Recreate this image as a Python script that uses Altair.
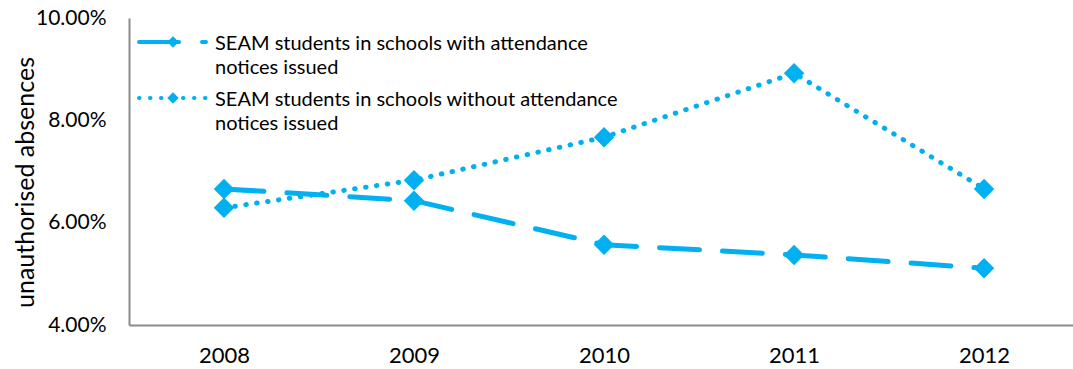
import altair as alt
import pandas as pd

# Unauthorised absence rates (%) for SEAM students, by year
years = [2008, 2009, 2010, 2011, 2012]
with_notices = [6.66, 6.43, 5.57, 5.37, 5.11]
without_notices = [6.29, 6.83, 7.67, 8.92, 6.66]

series_names = [
    "SEAM students in schools with attendance notices issued",
    "SEAM students in schools without attendance notices issued",
]
legend_lines = [
    "SEAM students in schools with attendance\nnotices issued",
    "SEAM students in schools without attendance\nnotices issued",
]
y_ticks = [4, 6, 8, 10]

BLUE = "#00B0F0"
AXIS_GREY = "#8C8C8C"
FONT = "Lato"
DASHES = [[40, 23], [0.5, 10.5]]

rows = []
for name, vals in zip(series_names, [with_notices, without_notices]):
    for yr, v in zip(years, vals):
        rows.append({"year": yr, "series": name, "rate": v})
df = pd.DataFrame(rows)

x_enc = alt.X(
    "year:Q",
    scale=alt.Scale(domain=[2007.5, 2012.468], nice=False, zero=False),
    axis=alt.Axis(
        values=years, format="d", title=None, grid=False, ticks=False, tickSize=0,
        labelPadding=20, labelFontSize=22, labelFont=FONT, labelColor="#000000",
        domainColor=AXIS_GREY, domainWidth=2,
    ),
)
y_enc = alt.Y(
    "rate:Q",
    scale=alt.Scale(domain=[4, 10], nice=False, zero=False),
    axis=alt.Axis(
        values=y_ticks, labelExpr="format(datum.value, '.2f') + '%'",
        title="unauthorised absences", titleFont=FONT, titleFontSize=25,
        titleFontWeight="normal", titleColor="#000000",
        titleX=-96, titleY=164, titleAlign="center", titleBaseline="alphabetic",
        titleAngle=270,
        grid=False, ticks=False, tickSize=0, labelPadding=23,
        labelFontSize=21, labelFont=FONT, labelColor="#000000",
        domainColor=AXIS_GREY, domainWidth=2,
    ),
)

lines = alt.Chart(df).mark_line(color=BLUE, strokeWidth=5, strokeCap="round").encode(
    x=x_enc,
    y=y_enc,
    strokeDash=alt.StrokeDash(
        "series:N", scale=alt.Scale(domain=series_names, range=DASHES), legend=None
    ),
    detail="series:N",
)

points = alt.Chart(df).mark_point(
    shape="diamond", filled=True, size=420, color=BLUE, opacity=1
).encode(x="year:Q", y="rate:Q")

# Hand-drawn legend in the top-left corner of the plot
legend_layers = []
for i, (name, label) in enumerate(zip(series_names, legend_lines)):
    ldf = pd.DataFrame({"series": [name], "label": [label]})
    base = alt.Chart(ldf)
    yline = 24 + 56 * i
    legend_layers.append(
        base.mark_rule(color=BLUE, strokeWidth=4, strokeCap="round", strokeDash=DASHES[i]).encode(
            x=alt.value(10), x2=alt.value(77), y=alt.value(yline)
        )
    )
    legend_layers.append(
        base.mark_point(shape="diamond", filled=True, size=130, color=BLUE, opacity=1).encode(
            x=alt.value(44), y=alt.value(yline)
        )
    )
    legend_layers.append(
        base.mark_text(
            align="left", baseline="alphabetic", font=FONT, fontSize=20,
            color="#000000", lineBreak="\n", lineHeight=24,
        ).encode(x=alt.value(86), y=alt.value(yline + 8), text="label:N")
    )

chart = alt.layer(lines, points, *legend_layers).properties(
    width=944,
    height=307,
    padding={"left": 129, "top": 18, "right": 0, "bottom": 44},
    autosize=alt.AutoSizeParams(type="none"),
    background="#ffffff",
).configure_view(stroke=None)

chart.save("out.html", embed_options={"renderer": "svg", "actions": False})
